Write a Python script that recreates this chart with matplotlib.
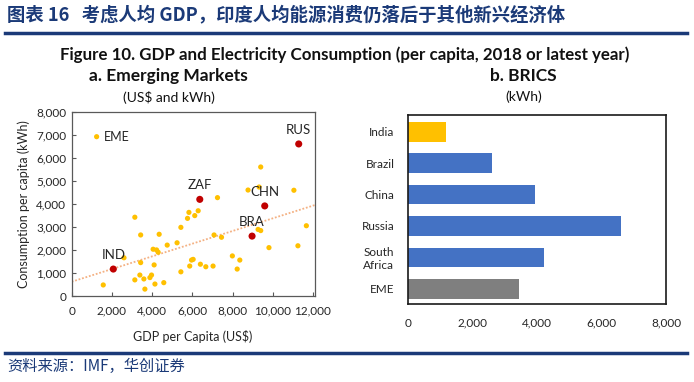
import matplotlib
matplotlib.use("Agg")
import matplotlib.pyplot as plt
from matplotlib.ticker import FuncFormatter

plt.rcParams["font.family"] = ["Lato", "Noto Sans CJK SC", "DejaVu Sans"]

# ---- panel a: emerging markets scatter (GDP per capita US$, kWh per capita)
OTHER_GDP = [1570, 2600, 3140, 3430, 4350, 3430, 3140, 3390, 3590, 3640,
             3890, 3970, 4100, 4140, 4580, 4050, 4220, 4300, 4750, 5240,
             5430, 5430, 5760, 5830, 6120, 6290, 5870, 5960, 6040, 6400,
             6670, 7030, 7250, 7080, 7450, 9270, 9400, 11670, 9810, 11250,
             7990, 8360, 8230, 9400, 8770, 9320, 11050]
OTHER_KWH = [480, 1660, 3420, 2650, 2680, 1450, 700, 910, 740, 300,
             800, 910, 1350, 520, 580, 2030, 2000, 1900, 2210, 2310,
             2980, 1050, 3370, 3630, 3490, 3700, 1300, 1560, 1590, 1380,
             1270, 1300, 4270, 2650, 2550, 2890, 2840, 3050, 2100, 2180,
             1740, 1560, 1170, 5600, 4600, 4730, 4590]

BRICS_CODES = ["IND", "BRA", "CHN", "RUS", "ZAF"]
BRICS_GDP = [2070, 8970, 9600, 11290, 6370]
BRICS_KWH = [1170, 2600, 3910, 6600, 4195]

EME_POINT = (1240, 6915)

TREND_X = [0, 12100]
TREND_Y = [620, 3950]

# ---- panel b: BRICS bars (kWh)
BAR_LABELS = ["India", "Brazil", "China", "Russia", "South\nAfrica", "EME"]
BAR_VALUES = [1170, 2590, 3930, 6600, 4200, 3445]

YELLOW = "#FFC000"
RED = "#C00000"
BLUE = "#4472C4"
GREY = "#7F7F7F"
NAVY = "#1B3A78"
TXT = "#262626"

thousands = FuncFormatter(lambda v, p: f"{v:,.0f}")

fig = plt.figure(figsize=(6.94, 3.82), dpi=100)

# header, rules, source
fig.text(0.010, 0.960, "图表 16   考虑人均 GDP，印度人均能源消费仍落后于其他新兴经济体",
         family=["Noto Sans CJK SC"], weight="bold", fontsize=13.2,
         color=NAVY, va="center", ha="left")
fig.add_artist(plt.Line2D([0.007, 0.990], [0.913, 0.913], color=NAVY, lw=2.5))
fig.add_artist(plt.Line2D([0.007, 0.990], [0.076, 0.076], color=NAVY, lw=2.5))
fig.text(0.011, 0.040, "资料来源：IMF，华创证券", family=["Noto Sans CJK SC"],
         fontsize=11, color=NAVY, va="center", ha="left", style="italic")

fig.text(0.497, 0.856, "Figure 10. GDP and Electricity Consumption (per capita, 2018 or latest year)",
         weight="bold", fontsize=12.2, ha="center", va="center", color="#111111")
fig.text(0.243, 0.801, "a. Emerging Markets", weight="bold", fontsize=12.5,
         ha="center", va="center", color="#111111")
fig.text(0.243, 0.746, "(US$ and kWh)", fontsize=10, ha="center", va="center",
         color="#111111")
fig.text(0.754, 0.801, "b. BRICS", weight="bold", fontsize=12.5,
         ha="center", va="center", color="#111111")
fig.text(0.754, 0.746, "(kWh)", fontsize=10, ha="center", va="center",
         color="#111111")

# ---- scatter
ax = fig.add_axes([0.1033, 0.2251, 0.3506, 0.4825])
ax.plot(TREND_X, TREND_Y, ls=(0, (1, 1)), color="#F4B183", lw=1.3, zorder=1)
ax.scatter(OTHER_GDP, OTHER_KWH, s=14, color=YELLOW, edgecolors="none", zorder=2)
ax.scatter([EME_POINT[0]], [EME_POINT[1]], s=14, color=YELLOW, edgecolors="none", zorder=2)
ax.annotate("EME", EME_POINT, xytext=(5, 0), textcoords="offset points",
            ha="left", va="center", fontsize=9, color=TXT)
ax.scatter(BRICS_GDP, BRICS_KWH, s=26, color=RED, edgecolors="none", zorder=3)
for code, gx, ky in zip(BRICS_CODES, BRICS_GDP, BRICS_KWH):
    ax.annotate(code, (gx, ky), xytext=(0, 10), textcoords="offset points",
                ha="center", va="center", fontsize=9.5, color=TXT)
ax.set_xlim(0, 12100)
ax.set_ylim(0, 8000)
ax.set_xticks(range(0, 12001, 2000))
ax.set_yticks(range(0, 8001, 1000))
ax.xaxis.set_major_formatter(thousands)
ax.yaxis.set_major_formatter(thousands)
ax.tick_params(direction="in", length=3, width=0.8, color="#595959",
               labelsize=8.5, labelcolor=TXT)
ax.tick_params(axis="x", pad=7)
ax.tick_params(axis="y", pad=4)
for sp in ax.spines.values():
    sp.set_color("#595959")
    sp.set_linewidth(0.9)
ax.set_ylabel("Consumption per capita (kWh)", fontsize=9, color=TXT, labelpad=4)
fig.text(0.278, 0.118, "GDP per Capita (US$)", fontsize=9, ha="center",
         va="center", color=TXT)

# ---- bars
bx = fig.add_axes([0.5883, 0.2042, 0.3713, 0.4948])
pos = list(range(len(BAR_LABELS)))
colors = [YELLOW, BLUE, BLUE, BLUE, BLUE, GREY]
bx.barh(pos, BAR_VALUES, height=0.63, color=colors, edgecolor="none")
bx.set_yticks(pos)
bx.set_yticklabels(BAR_LABELS)
bx.set_ylim(5.48, -0.53)
bx.set_xlim(0, 8000)
bx.set_xticks(range(0, 8001, 2000))
bx.xaxis.set_major_formatter(thousands)
bx.tick_params(length=0, labelsize=8.5, labelcolor=TXT)
bx.tick_params(axis="x", pad=10)
bx.tick_params(axis="y", pad=10)
for lab in bx.get_yticklabels():
    lab.set_multialignment("center")
for sp in bx.spines.values():
    sp.set_color("#1a1a1a")
    sp.set_linewidth(1.2)

fig.savefig("out.png", dpi=100)
